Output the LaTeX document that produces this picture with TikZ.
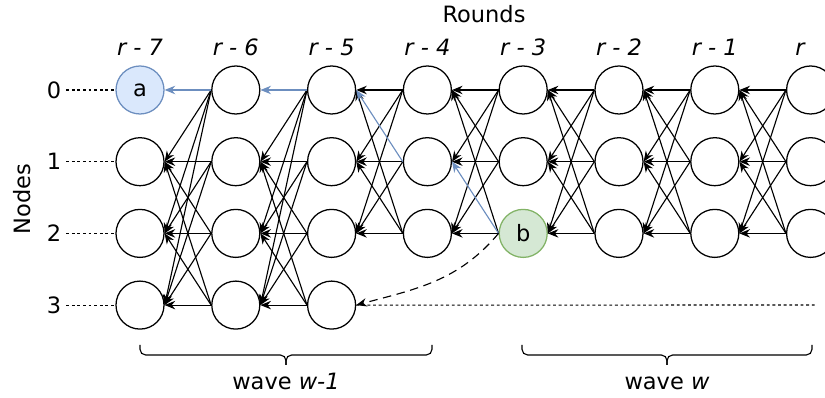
\documentclass[tikz,border=0pt]{standalone}
\usepackage{fontspec}
\setmainfont{DejaVu Sans}
\definecolor{dagblue}{HTML}{6C8EBF}
\definecolor{dagbluefill}{HTML}{DAE8FC}
\definecolor{daggreen}{HTML}{82B366}
\definecolor{daggreenfill}{HTML}{D5E8D4}
\usetikzlibrary{arrows.meta}

\begin{document}
\begin{tikzpicture}[x=0.025cm,y=-0.025cm,
  font=\fontsize{16}{19}\selectfont,
  vtx/.style={draw,circle,fill=white,minimum size=1.2cm,inner sep=0pt,line width=0.9pt},
  edge/.style={-{Stealth[length=7.5pt,width=6pt]},line width=0.8pt},
  strong/.style={edge,dagblue},
  weak/.style={edge,dash pattern=on 6pt off 4pt},
  rowline/.style={line width=0.75pt,dash pattern=on 2pt off 2pt},
  brace/.style={line width=0.8pt,rounded corners=4pt},
  lbl/.style={anchor=base}
]
  \useasboundingbox (0,0) rectangle (825,398);

  % Vertices (rounds r-7 .. r, nodes 0 .. 3)
  \node[vtx,fill=dagbluefill,draw=dagblue] (v00) at (140,90) {a};
  \node[vtx,fill=daggreenfill,draw=daggreen] (v42) at ({140+95.8*4},{90+71.7*2}) {b};
  \foreach \c/\n in {0/3,1/3,2/3,3/2,4/2,5/2,6/2,7/2}
    \foreach \r in {0,...,\n}{
      \ifnum\c\r=0 \else\ifnum\c\r=42 \else
        \node[vtx] (v\c\r) at ({140+95.8*\c},{90+71.7*\r}) {};
      \fi\fi
    }

  % Labels
  \node[lbl] (rounds) at (484,23) {Rounds};
  \foreach \c/\t in {0/7,1/6,2/5,3/4,4/3,5/2,6/1}
    \node[lbl] (round\c) at (v\c0 |- 0,56) {\itshape r - \t};
  \node[lbl] (round7) at (800,56) {\itshape r};
  \node[rotate=90] (nodes) at (22,199) {Nodes};
  \foreach \r in {0,...,3}{
    \node (row\r) at (54,{90+71.7*\r}) {\r};
    \draw[rowline] (row\r.east) -- (v0\r.west);
  }
  \coordinate (end3) at (815,305);
  \draw[rowline] (v23.east) -- (end3);

  % Edges to the previous round
  \foreach \c in {0,1}{
    \pgfmathtruncatemacro\src{\c+1}
    \foreach \s in {0,...,3} \foreach \t in {1,2,3}
      \draw[edge] (v\src\s.west) -- (v\c\t.east);
  }
  \foreach \c in {2,...,6}{
    \pgfmathtruncatemacro\src{\c+1}
    \foreach \s in {0,1,2} \foreach \t in {0,1,2}{
      \ifnum\src\s\t=310 \else\ifnum\src\s\t=421 \else
        \draw[edge] (v\src\s.west) -- (v\c\t.east);
      \fi\fi
    }
  }
  \draw[strong] (v10.west) -- (v00.east);
  \draw[strong] (v20.west) -- (v10.east);
  \draw[strong] (v31.west) -- (v20.east);
  \draw[strong] (v42.west) -- (v31.east);
  \draw[weak] (v42.west) to[out=-130,in=15] (v23.east);

  % Waves
  \draw[brace] (140,345) |- (286,355) -- (286,365);
  \draw[brace] (432,345) |- (286,355) -- (286,365);
  \draw[brace] (522,345) |- (667,355) -- (667,365);
  \draw[brace] (812,345) |- (667,355) -- (667,365);
  \node[lbl] (wave1) at (286,390) {wave \textit{w-1}};
  \node[lbl] (wave2) at (667,390) {wave \textit{w}};
\end{tikzpicture}
\end{document}
